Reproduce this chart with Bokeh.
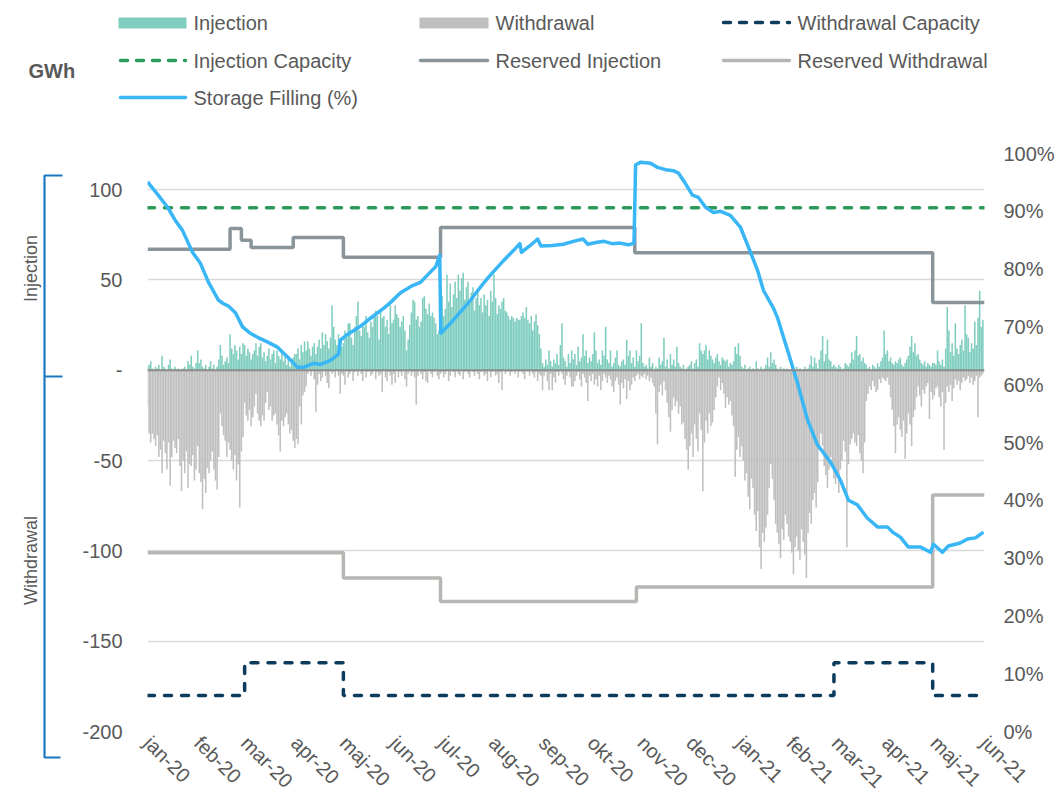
import math
from bokeh.plotting import figure
from bokeh.models import Range1d, LinearAxis, FixedTicker, Span
from bokeh.layouts import column, row
from bokeh.embed import file_html
from bokeh.resources import INLINE
from bokeh.core.properties import value

# ---------------- data ----------------
# x = day index counted from 1 Jan 2020 (0) to 31 May 2021 (516)
month_start_day = [0, 31, 60, 91, 121, 152, 182, 213, 244, 274, 305, 335,
                   366, 397, 425, 456, 486, 517]
month_labels = ["jan-20", "feb-20", "mar-20", "apr-20", "maj-20", "jun-20",
                "jul-20", "aug-20", "sep-20", "okt-20", "nov-20", "dec-20",
                "jan-21", "feb-21", "mar-21", "apr-21", "maj-21", "jun-21"]

# daily injection (GWh), one line per month
injection_gwh = (
    [2, 3, 5, 1, 0, 2, 1, 3, 0, 8, 2, 1, 0, 3, 6, 1, 0, 2, 0, 1, 0, 0, 1, 2, 0, 5, 3, 8, 2, 1, 4]
    + [11, 4, 6, 2, 1, 3, 0, 2, 5, 1, 3, 0, 2, 6, 14, 8, 3, 5, 7, 4, 20, 12, 9, 14, 11, 6, 13, 9, 15]
    + [14, 8, 12, 10, 6, 9, 11, 15, 8, 13, 15, 7, 10, 5, 8, 12, 6, 9, 11, 4, 11, 8, 6, 10, 5, 8, 3, 6, 2, 4, 7]
    + [9, 9, 12, 6, 14, 10, 16, 11, 16, 12, 8, 13, 15, 9, 13, 17, 12, 21, 14, 20, 16, 12, 18, 36, 24, 17, 14, 20, 15, 13]
    + [15, 22, 18, 26, 26, 18, 14, 24, 30, 38, 22, 19, 25, 24, 30, 21, 18, 27, 24, 30, 33, 30, 17, 33, 29, 30, 24, 28, 20, 36, 26]
    + [28, 36, 31, 29, 24, 27, 30, 22, 11, 17, 25, 32, 39, 38, 28, 30, 24, 27, 40, 41, 34, 31, 37, 30, 32, 29, 26, 20, 22, 35]
    + [41, 30, 34, 53, 38, 48, 35, 42, 49, 40, 53, 44, 51, 54, 39, 46, 49, 37, 43, 46, 33, 40, 44, 36, 40, 32, 42, 36, 39, 30, 44]
    + [38, 53, 40, 31, 36, 34, 38, 40, 33, 32, 30, 28, 30, 29, 27, 29, 28, 28, 30, 32, 29, 35, 28, 26, 30, 22, 27, 31, 25, 20, 12]
    + [4, 2, 6, 3, 11, 5, 2, 6, 4, 9, 3, 14, 26, 7, 5, 2, 9, 4, 11, 6, 9, 3, 13, 5, 7, 20, 8, 11, 4, 7]
    + [5, 9, 21, 11, 4, 6, 3, 11, 8, 24, 6, 4, 11, 2, 4, 7, 11, 3, 2, 5, 6, 3, 17, 8, 11, 4, 7, 2, 11, 5, 8]
    + [26, 4, 2, 3, 1, 7, 2, 4, 0, 2, 1, 7, 3, 5, 18, 2, 6, 1, 9, 3, 6, 2, 13, 4, 2, 1, 3, 0, 1, 2]
    + [3, 5, 1, 4, 6, 2, 15, 11, 9, 11, 14, 6, 11, 8, 6, 4, 7, 9, 5, 3, 7, 6, 5, 6, 2, 4, 3, 5, 13, 9, 15]
    + [8, 2, 1, 3, 0, 1, 2, 0, 1, 0, 5, 1, 0, 2, 0, 1, 3, 7, 2, 10, 4, 6, 3, 1, 0, 2, 0, 1, 0, 1, 0]
    + [0, 1, 0, 0, 2, 0, 1, 0, 0, 2, 0, 1, 3, 8, 2, 7, 4, 1, 6, 11, 19, 5, 9, 17, 6, 5, 2, 3]
    + [2, 1, 3, 2, 0, 1, 4, 3, 2, 4, 10, 6, 11, 19, 8, 9, 5, 7, 4, 3, 1, 2, 0, 3, 2, 1, 4, 2, 5, 7, 22]
    + [9, 11, 5, 7, 4, 3, 5, 4, 6, 7, 3, 2, 4, 6, 8, 13, 19, 10, 15, 8, 9, 6, 4, 3, 5, 2, 4, 3, 2, 4]
    + [4, 3, 11, 5, 3, 6, 2, 12, 35, 22, 10, 15, 8, 26, 12, 9, 14, 17, 11, 36, 20, 18, 10, 15, 12, 27, 14, 29, 44, 24, 28]
)

# daily withdrawal (GWh, negative), one line per month
withdrawal_gwh = (
    [-20, -35, -40, -35, -38, -42, -36, -48, -44, -57, -39, -46, -55, -40, -64, -48, -39, -43, -46, -38, -53, -67, -50, -57, -45, -65, -52, -53, -47, -61, -55]
    + [-42, -57, -62, -77, -60, -68, -54, -57, -50, -45, -55, -61, -66, -48, -24, -31, -36, -39, -48, -40, -44, -50, -55, -47, -61, -52, -76, -45, -37]
    + [-18, -25, -28, -22, -31, -26, -20, -13, -24, -28, -31, -25, -28, -18, -12, -22, -20, -28, -25, -24, -30, -36, -45, -28, -31, -26, -24, -30, -35, -33, -39]
    + [-43, -38, -41, -20, -30, -14, -12, -9, -2, 0, -3, 0, -5, -23, -8, -2, -6, -4, 0, -3, -7, -10, 0, -2, -1, -4, 0, -3, -13, -2]
    + [-3, -8, 0, -4, -2, 0, -6, -1, 0, -3, 0, -2, -6, 0, -4, -1, 0, -3, -2, 0, -5, -1, -3, -2, -12, 0, -4, -6, -1, -3, -8]
    + [-2, -7, 0, -4, -1, -3, 0, -5, -9, -2, 0, -3, -1, -4, -19, -3, 0, -2, -5, -1, -6, -7, 0, -2, -4, -1, 0, -3, -5, -2]
    + [-1, -4, -2, 0, -6, -3, 0, -1, -4, 0, -2, -3, 0, -5, -1, 0, -2, -4, 0, -1, -3, 0, -2, -5, -1, 0, -3, -2, -6, 0, -4]
    + [-1, 0, -3, -2, -7, -1, -11, 0, -2, -1, 0, -3, -1, 0, -2, 0, -4, -1, 0, -2, -5, 0, -1, -3, 0, -2, -4, -1, -6, -2, -3]
    + [-11, -3, -1, -6, -11, -2, -11, -4, -7, -1, -3, 0, -2, -5, -8, -3, -1, -4, -9, -9, -6, -3, -1, -5, -9, -2, -4, -7, -17, -3]
    + [-6, -2, -8, -5, -9, -3, -11, -6, -2, -4, -7, -3, -5, -9, -12, -6, -4, -8, -19, -7, -10, -5, -16, -6, -11, -8, -4, -6, -3, -2, -5]
    + [-3, -4, -2, -5, -3, -6, -4, -7, -9, -24, -41, -12, -8, -14, -6, -11, -18, -26, -34, -22, -15, -20, -17, -24, -20, -30, -29, -38, -44, -55]
    + [-42, -35, -48, -30, -38, -45, -24, -33, -67, -40, -28, -35, -24, -31, -29, -22, -15, -9, -4, -11, -7, -13, -21, -15, -19, -17, -25, -31, -59, -44, -37]
    + [-48, -42, -50, -61, -57, -70, -77, -60, -65, -80, -89, -78, -98, -110, -90, -95, -87, -80, -65, -52, -60, -72, -85, -90, -96, -104, -88, -94, -80, -85, -92]
    + [-95, -101, -113, -98, -92, -100, -105, -88, -95, -102, -115, -90, -79, -85, -72, -68, -76, -62, -44, -35, -42, -53, -58, -65, -55, -48, -52, -60]
    + [-63, -58, -68, -55, -50, -39, -45, -98, -52, -41, -38, -35, -40, -42, -36, -46, -50, -57, -40, -17, -13, -9, -11, -6, -9, -12, -11, -5, -7, -4, -5]
    + [-6, -4, -8, -15, -22, -31, -46, -30, -26, -33, -37, -28, -49, -35, -24, -30, -42, -26, -22, -15, -9, -14, -20, -11, -13, -9, -7, -27, -12, -16]
    + [-14, -10, -9, -15, -20, -12, -44, -18, -9, -12, -8, -17, -10, -5, -8, -6, -11, -7, -4, -6, -5, -3, -7, -4, -8, -6, -3, -26, -4, -3, -2]
)

# step series (value holds from the given day on)
inj_cap_day = [0, 517]
inj_cap_val = [90, 90]
wd_cap_day = [0, 60, 121, 424, 485, 517]
wd_cap_val = [-180, -162, -180, -162, -180, -180]
res_inj_day = [0, 51, 58, 64, 90, 121, 181, 301, 485, 517]
res_inj_val = [67, 78.5, 72, 68, 73.5, 62.5, 79, 65, 37.5, 37.5]
res_wd_day = [0, 121, 181, 302, 485, 517]
res_wd_val = [-101, -115, -128, -120, -69, -69]

# storage filling (%)
filling_day = [0, 6, 12.4, 17, 21.6, 27.8, 32.7, 37.7, 43.9, 47, 50, 54.4, 58.7, 63, 68, 74,
               80.3, 86.5, 92.7, 96.4, 102.6, 107, 113, 118, 119.2, 123.5, 131.5, 137.7, 145.8,
               150, 156.3, 164, 168.6, 173, 178, 180.5, 181.2, 189, 199.5, 205.7, 210, 220, 227,
               230, 231, 236, 241, 243, 250, 257, 263, 269, 272, 277, 282, 287, 292, 297, 300.5,
               301.5, 304.5, 310.7, 315, 320, 325, 328, 332.3, 336.6, 340.3, 344.7, 349.6, 354,
               360, 366.3, 371.2, 376.8, 380.5, 386.7, 389, 395.3, 401.5, 407.7, 413.8, 421.9,
               428, 433, 438.5, 444.7, 450.9, 457, 460.2, 465.1, 470, 477.5, 483.6, 485.5, 491,
               494.7, 502, 506.5, 511.4, 516.4]
filling_pct = [95.1, 93.0, 90.7, 88.5, 86.7, 82.9, 81.0, 77.7, 74.6, 74.0, 73.6, 72.4, 70.0, 69.0,
               68.2, 67.4, 66.5, 64.8, 63.0, 63.0, 63.7, 63.5, 64.2, 65.3, 67.7, 68.7, 70.1, 71.5,
               73.2, 74.2, 75.9, 77.2, 77.7, 79.0, 80.4, 82.4, 68.9, 71.2, 74.6, 76.9, 78.4, 81.5,
               83.5, 84.4, 82.9, 84.0, 85.2, 84.0, 84.1, 84.3, 84.8, 85.2, 84.3, 84.6, 84.8, 84.4,
               84.5, 84.2, 84.5, 98.0, 98.5, 98.3, 97.6, 97.2, 97.0, 96.6, 94.8, 92.8, 92.4, 90.7,
               89.8, 90.0, 89.3, 87.2, 83.8, 79.8, 76.3, 73.2, 71.7, 66.0, 60.3, 53.9, 49.6, 46.6,
               43.5, 40.0, 39.2, 36.9, 35.4, 35.4, 34.5, 33.6, 31.9, 31.9, 31.0, 32.4, 31.0, 32.1,
               32.6, 33.3, 33.5, 34.5]

left_ticks = [-200, -150, -100, -50, 0, 50, 100]
left_tick_labels = ["-200", "-150", "-100", "-50", "-", "50", "100"]
pct_ticks = [0, 10, 20, 30, 40, 50, 60, 70, 80, 90, 100]
pct_tick_labels = ["0%", "10%", "20%", "30%", "40%", "50%", "60%", "70%", "80%", "90%", "100%"]

# ---------------- style ----------------
FONT = "Liberation Sans"
TXT = "#595959"
C_INJ = "#7fcdbe"
C_WD = "#bfbfbf"
C_FILL = "#38b6f6"
C_RES_INJ = "#8a959b"
C_RES_WD = "#b5b7b3"
C_INJ_CAP = "#2c9a5b"
C_WD_CAP = "#0c3b5b"
C_BRACKET = "#1a78c2"

PAGE_W = 1063
TOP_H = 123
LEFT_W = 78
MAIN_W, MAIN_H = PAGE_W - LEFT_W, 680
FRAME_TOP, FRAME_BOTTOM = TOP_H + 30, TOP_H + 30 + 578

days = list(range(len(injection_gwh)))


def style_axis(ax, standoff):
    ax.axis_line_color = None
    ax.major_tick_line_color = None
    ax.minor_tick_line_color = None
    ax.major_tick_out = 0
    ax.major_tick_in = 0
    ax.minor_tick_out = 0
    ax.major_label_standoff = standoff
    ax.major_label_text_font = FONT
    ax.major_label_text_font_size = "20px"
    ax.major_label_text_color = TXT


def no_align(fig):
    if "frame_align" in fig.properties():
        fig.frame_align = False
        return True
    return False


# ---------------- main chart ----------------
p = figure(width=MAIN_W, height=MAIN_H, x_range=Range1d(0, 517), y_range=Range1d(-200, 120),
           output_backend="svg", toolbar_location=None,
           min_border_left=69, min_border_right=MAIN_W - 69 - 837,
           min_border_top=30, min_border_bottom=MAIN_H - 30 - 578)
p.outline_line_color = None
p.background_fill_color = "white"
p.border_fill_color = "white"
p.xgrid.visible = False
p.ygrid.ticker = FixedTicker(ticks=left_ticks)
p.ygrid.grid_line_color = "#d9d9d9"
p.ygrid.grid_line_width = 1.3

p.xaxis.ticker = FixedTicker(ticks=month_start_day)
p.xaxis.major_label_overrides = {d: l for d, l in zip(month_start_day, month_labels)}
p.xaxis.major_label_orientation = -math.pi / 4
style_axis(p.xaxis[0], 8)

p.yaxis.ticker = FixedTicker(ticks=left_ticks)
p.yaxis.major_label_overrides = {t: l for t, l in zip(left_ticks, left_tick_labels)}
style_axis(p.yaxis[0], 25)

p.extra_y_ranges = {"pct": Range1d(0, 100)}
ax_r = LinearAxis(y_range_name="pct", ticker=FixedTicker(ticks=pct_ticks),
                  major_label_overrides={t: l for t, l in zip(pct_ticks, pct_tick_labels)})
style_axis(ax_r, 19)
p.add_layout(ax_r, "right")

p.vbar(x=days, top=injection_gwh, bottom=0, width=0.95, fill_color=C_INJ, line_color=None)
p.vbar(x=days, top=withdrawal_gwh, bottom=0, width=0.95, fill_color=C_WD, line_color=None)
p.add_layout(Span(location=0, dimension="width", line_color="#8c8c8c", line_width=2))

p.step(x=inj_cap_day, y=inj_cap_val, mode="after", line_color=C_INJ_CAP, line_width=3.5,
       line_dash="7 10", line_cap="round")
p.step(x=wd_cap_day, y=wd_cap_val, mode="after", line_color=C_WD_CAP, line_width=3.5,
       line_dash="7 10", line_cap="round")
p.step(x=res_inj_day, y=res_inj_val, mode="after", line_color=C_RES_INJ, line_width=3.5)
p.step(x=res_wd_day, y=res_wd_val, mode="after", line_color=C_RES_WD, line_width=3.5)
p.line(x=filling_day, y=filling_pct, y_range_name="pct", line_color=C_FILL, line_width=3.5,
       line_join="round")

# ---------------- legend (top strip, page pixel coordinates) ----------------
lg = figure(width=PAGE_W, height=TOP_H, x_range=Range1d(0, PAGE_W),
            y_range=Range1d(TOP_H, 0), x_axis_type=None, y_axis_type=None,
            output_backend="svg", toolbar_location=None,
            min_border_left=0, min_border_right=0, min_border_top=0, min_border_bottom=0)
lg.outline_line_color = None
lg.grid.visible = False
no_align(lg)

lg.quad(left=[118, 419], right=[186, 488], top=[17, 17], bottom=[28, 28],
        fill_color=[C_INJ, C_WD], line_color=None)
lg.line(x=[723, 789], y=[22, 22], line_color=C_WD_CAP, line_width=3.5, line_dash="7 9",
        line_cap="round")
lg.line(x=[120, 185], y=[60, 60], line_color=C_INJ_CAP, line_width=3.5, line_dash="7 9",
        line_cap="round")
lg.line(x=[420, 487], y=[60, 60], line_color=C_RES_INJ, line_width=3.5, line_cap="round")
lg.line(x=[723, 789], y=[60, 60], line_color=C_RES_WD, line_width=3.5, line_cap="round")
lg.line(x=[120, 185], y=[97, 97], line_color=C_FILL, line_width=3.5, line_cap="round")

lg.text(x=[193, 495, 797, 193, 495, 797, 193], y=[22, 22, 22, 60, 60, 60, 97],
        text=["Injection", "Withdrawal", "Withdrawal Capacity", "Injection Capacity",
              "Reserved Injection", "Reserved Withdrawal", "Storage Filling (%)"],
        text_font=value(FONT), text_font_size="20px", text_color=TXT,
        text_align="left", text_baseline="middle")
lg.text(x=[28], y=[70], text=["GWh"], text_font=value(FONT), text_font_size="20px",
        text_font_style="bold", text_color=TXT, text_align="left", text_baseline="middle")

# ---------------- left bracket strip ----------------
lf = figure(width=LEFT_W, height=MAIN_H, x_range=Range1d(0, LEFT_W),
            y_range=Range1d(TOP_H + MAIN_H, TOP_H), x_axis_type=None, y_axis_type=None,
            output_backend="svg", toolbar_location=None,
            min_border_left=0, min_border_right=0, min_border_top=0, min_border_bottom=0)
lf.outline_line_color = None
lf.grid.visible = False
if not no_align(lf):
    # frame gets aligned with the main chart's frame
    lf.y_range = Range1d(FRAME_BOTTOM, FRAME_TOP)

lf.line(x=[62, 44, 44, 60], y=[175, 175, 757, 757], line_color=C_BRACKET, line_width=2.2)
lf.line(x=[44, 62], y=[376, 376], line_color=C_BRACKET, line_width=2.2)
lf.text(x=[30, 30], y=[268, 560], text=["Injection", "Withdrawal"], angle=math.pi / 2,
        text_font=value(FONT), text_font_size="18px", text_color=TXT,
        text_align="center", text_baseline="middle")

layout = column(lg, row(lf, p))
open("out.html", "w").write(file_html(layout, INLINE))
